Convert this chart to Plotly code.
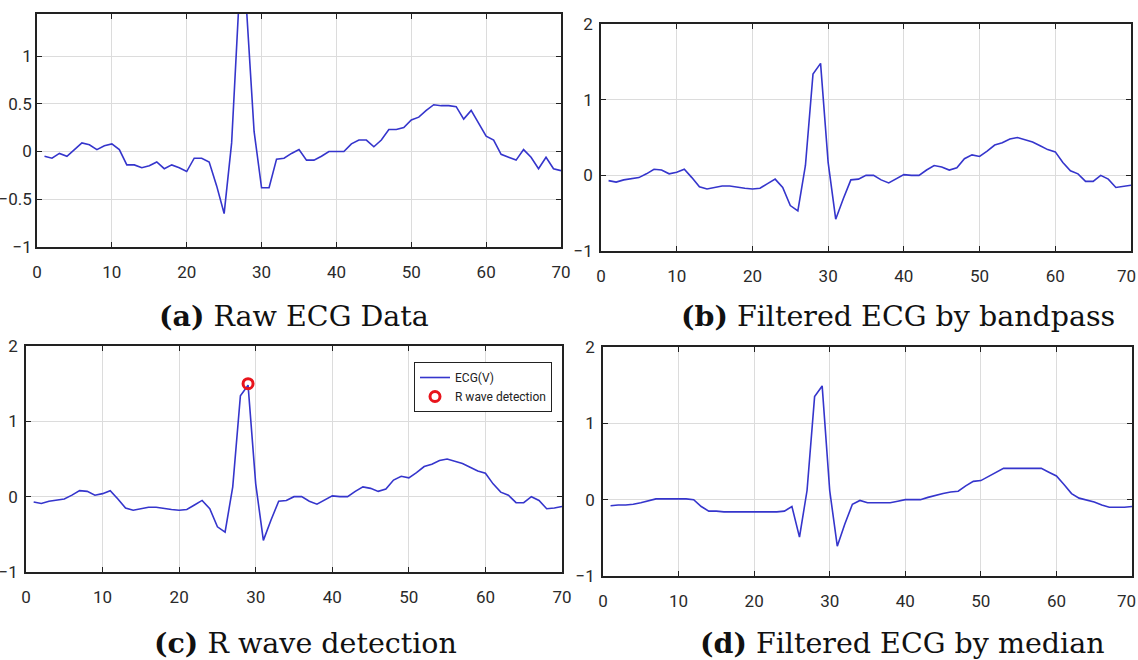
import plotly.graph_objects as go

x_vals = list(range(1, 71))

raw_ecg = [-0.05, -0.07, -0.02, -0.05, 0.02, 0.09, 0.07, 0.02, 0.06, 0.08,
           0.02, -0.14, -0.14, -0.17, -0.15, -0.11, -0.18, -0.14, -0.17, -0.21,
           -0.07, -0.07, -0.11, -0.36, -0.65, 0.09, 1.60, 1.48, 0.21, -0.38,
           -0.38, -0.08, -0.07, -0.02, 0.02, -0.09, -0.09, -0.05, 0.0, 0.0,
           0.0, 0.08, 0.12, 0.12, 0.05, 0.12, 0.23, 0.23, 0.25, 0.33,
           0.36, 0.43, 0.49, 0.48, 0.48, 0.47, 0.34, 0.43, 0.30, 0.16,
           0.12, -0.03, -0.06, -0.09, 0.02, -0.06, -0.18, -0.06, -0.18, -0.20]

bandpass_ecg = [-0.07, -0.09, -0.06, -0.04, -0.03, 0.02, 0.08, 0.07, 0.02, 0.04,
                0.08, -0.03, -0.15, -0.18, -0.16, -0.14, -0.14, -0.16, -0.17, -0.18,
                -0.17, -0.11, -0.05, -0.16, -0.40, -0.47, 0.13, 1.34, 1.48, 0.17,
                -0.58, -0.31, -0.06, -0.05, 0.0, 0.0, -0.06, -0.10, -0.05, 0.01,
                0.0, 0.0, 0.07, 0.13, 0.11, 0.07, 0.10, 0.22, 0.27, 0.25,
                0.32, 0.40, 0.43, 0.48, 0.50, 0.47, 0.44, 0.39, 0.34, 0.31,
                0.17, 0.06, 0.02, -0.08, -0.08, 0.0, -0.05, -0.16, -0.15, -0.13]

median_ecg = [-0.08, -0.07, -0.07, -0.06, -0.04, -0.02, 0.01, 0.01, 0.01, 0.01,
              0.01, 0.0, -0.09, -0.15, -0.15, -0.16, -0.16, -0.16, -0.16, -0.16,
              -0.16, -0.16, -0.16, -0.15, -0.09, -0.49, 0.12, 1.35, 1.49, 0.12,
              -0.61, -0.32, -0.06, -0.01, -0.04, -0.04, -0.04, -0.04, -0.02, 0.0,
              0.0, 0.0, 0.03, 0.06, 0.08, 0.10, 0.11, 0.18, 0.24, 0.25,
              0.30, 0.36, 0.41, 0.41, 0.41, 0.41, 0.41, 0.41, 0.36, 0.31,
              0.20, 0.08, 0.02, 0.0, -0.03, -0.07, -0.10, -0.10, -0.10, -0.09]

r_peak_x = [29]
r_peak_y = [1.50]

captions = ["<b>(a)</b> Raw ECG Data", "<b>(b)</b> Filtered ECG by bandpass",
            "<b>(c)</b> R wave detection", "<b>(d)</b> Filtered ECG by median"]

x_ticks = [0, 10, 20, 30, 40, 50, 60, 70]
x_labels = ["0", "10", "20", "30", "40", "50", "60", "70"]
y_ticks_a = [-1, -0.5, 0, 0.5, 1]
y_ticks_bcd = [-1, 0, 1, 2]

LINE = "#3535cc"
W, H = 1138, 660

def dom_x(l, r):
    return [l / W, r / W]

def dom_y(t, b):
    return [1 - b / H, 1 - t / H]

fig = go.Figure()

fig.add_trace(go.Scatter(x=x_vals, y=raw_ecg, mode="lines", line=dict(color=LINE, width=1.6),
                         xaxis="x", yaxis="y", showlegend=False))
fig.add_trace(go.Scatter(x=x_vals, y=bandpass_ecg, mode="lines", line=dict(color=LINE, width=1.6),
                         xaxis="x2", yaxis="y2", showlegend=False))
fig.add_trace(go.Scatter(x=x_vals, y=bandpass_ecg, mode="lines", line=dict(color=LINE, width=1.6),
                         xaxis="x3", yaxis="y3", name="ECG(V)", showlegend=True))
fig.add_trace(go.Scatter(x=r_peak_x, y=r_peak_y, mode="markers",
                         marker=dict(symbol="circle-open", color="#e8141c", size=10, line=dict(width=3, color="#e8141c")),
                         xaxis="x3", yaxis="y3", name="R wave detection", showlegend=True))
fig.add_trace(go.Scatter(x=x_vals, y=median_ecg, mode="lines", line=dict(color=LINE, width=1.6),
                         xaxis="x4", yaxis="y4", showlegend=False))

FONT = "Roboto, sans-serif"
tick_font = dict(family=FONT, size=17, color="#2a2a2a")

def xax(dom, anchor, last_label=True):
    text = x_labels if last_label else x_labels[:-1] + [""]
    return dict(domain=dom, anchor=anchor, range=[0, 70], tickvals=x_ticks, ticktext=text, showline=True,
                linecolor="#222", linewidth=1.5, mirror="ticks", ticks="inside", ticklen=5, tickcolor="#222",
                showgrid=True, gridcolor="#dcdcdc", gridwidth=1, zeroline=False, tickfont=tick_font,
                ticklabelstandoff=9, automargin=False, ticklabeloverflow="allow")

def yax(dom, anchor, rng, vals, standoff):
    return dict(domain=dom, anchor=anchor, range=rng, tickvals=vals, showline=True, linecolor="#222",
                linewidth=1.5, mirror="ticks", ticks="inside", ticklen=5, tickcolor="#222", showgrid=True,
                gridcolor="#dcdcdc", gridwidth=1, zeroline=False, tickfont=tick_font, ticklabelstandoff=standoff,
                automargin=False, ticklabeloverflow="allow")

fig.update_layout(
    width=W, height=H,
    margin=dict(l=0, r=0, t=0, b=0, pad=0, autoexpand=False),
    paper_bgcolor="white", plot_bgcolor="white",
    xaxis=xax(dom_x(37, 561), "y"),
    yaxis=yax(dom_y(14, 247), "x", [-1, 1.44], y_ticks_a, 0),
    xaxis2=xax(dom_x(601, 1131), "y2", last_label=False),
    yaxis2=yax(dom_y(24, 251), "x2", [-1, 2], y_ticks_bcd, 3),
    xaxis3=xax(dom_x(26, 562), "y3"),
    yaxis3=yax(dom_y(346, 572), "x3", [-1, 2], y_ticks_bcd, 3),
    xaxis4=xax(dom_x(603, 1132), "y4", last_label=False),
    yaxis4=yax(dom_y(347, 576), "x4", [-1, 2], y_ticks_bcd, 3),
    legend=dict(x=552 / W, y=1 - 362 / H, xanchor="right", yanchor="top",
                bordercolor="#222", borderwidth=1, bgcolor="white",
                font=dict(family=FONT, size=12, color="#222"),
                itemwidth=30, tracegroupgap=2),
)

# last x label of the right-hand panels, kept inside the page edge
for yaxis_bottom in (251, 576):
    fig.add_annotation(text=x_labels[-1], x=1.0, y=1 - (yaxis_bottom + 25) / H, xref="paper", yref="paper",
                       showarrow=False, font=tick_font, xanchor="right", yanchor="middle")

cap_font = dict(family="DejaVu Serif, Liberation Serif, serif", size=28.5, color="#111")
cap_pos = [(294, 316), (898, 316), (305, 643), (902, 643)]
for text, (cx, cy) in zip(captions, cap_pos):
    fig.add_annotation(text=text, x=cx / W, y=1 - cy / H, xref="paper", yref="paper",
                       showarrow=False, font=cap_font, xanchor="center", yanchor="middle")

fig.write_html("out.html", config={"displayModeBar": False},
               post_script="document.body.style.margin='0';document.body.style.overflow='hidden';")
